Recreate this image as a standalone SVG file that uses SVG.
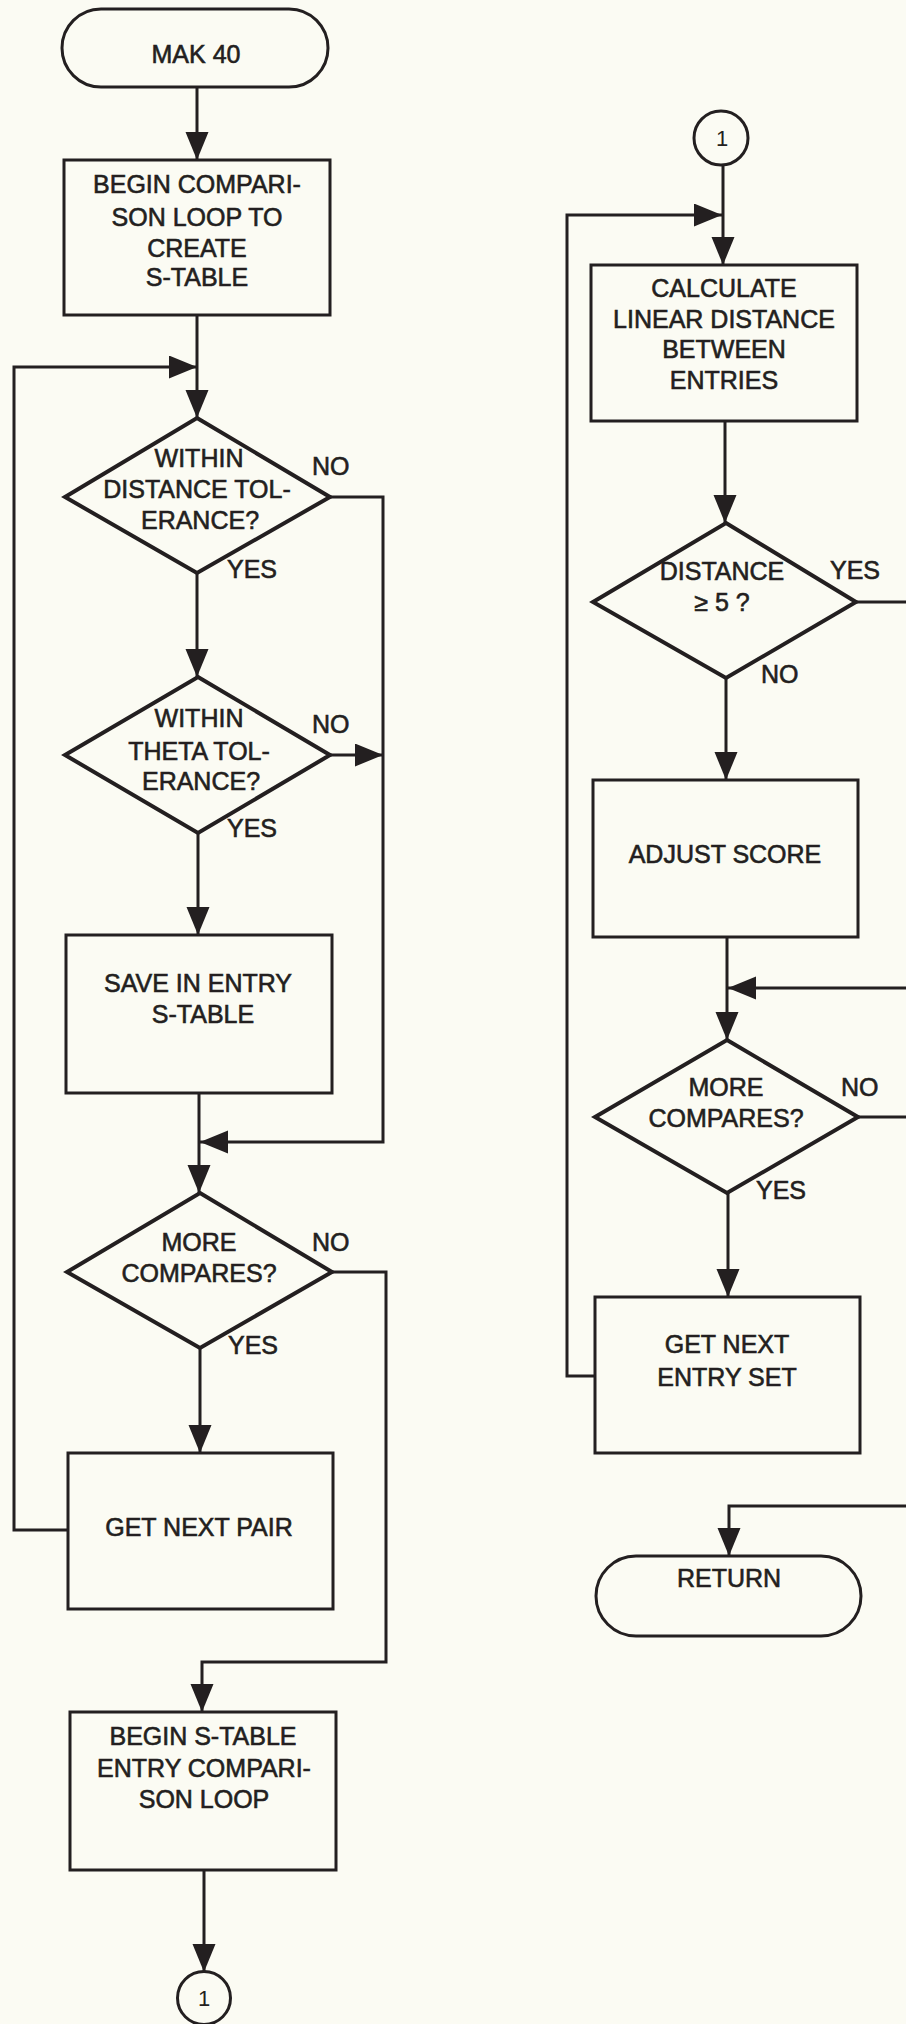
<svg xmlns="http://www.w3.org/2000/svg" width="906" height="2024" viewBox="0 0 906 2024">
<style>
.shape{fill:none;stroke:#231f20;stroke-width:3}
.dia{fill:none;stroke:#231f20;stroke-width:4;stroke-linejoin:miter}
.con{fill:none;stroke:#231f20;stroke-width:3}
.t{font-family:"Liberation Sans",Arial,sans-serif;font-size:25px;fill:#231f20;stroke:#231f20;stroke-width:0.6;text-anchor:middle}
.lbl{font-family:"Liberation Sans",Arial,sans-serif;font-size:25px;fill:#231f20;stroke:#231f20;stroke-width:0.6}
.num{font-family:"Liberation Sans",Arial,sans-serif;font-size:22px;fill:#231f20;text-anchor:middle}
</style>
<defs>
<marker id="ah" markerUnits="userSpaceOnUse" markerWidth="30" markerHeight="24" refX="28" refY="11.5" orient="auto">
<path d="M0,0 L28,11.5 L0,23 z" fill="#231f20"/>
</marker>
</defs>
<rect x="0" y="0" width="906" height="2024" fill="#fbfbf3"/>

<g id="connectors">
<path class="con" d="M197,87 V160" marker-end="url(#ah)"/>
<path class="con" d="M197,315 V418" marker-end="url(#ah)"/>
<path class="con" d="M68,1530 H14 V367 H197" marker-end="url(#ah)"/>
<path class="con" d="M197,573 V677" marker-end="url(#ah)"/>
<path class="con" d="M330,497 H383 V1142 H200" marker-end="url(#ah)"/>
<path class="con" d="M330,755 H383" marker-end="url(#ah)"/>
<path class="con" d="M198,833 V935" marker-end="url(#ah)"/>
<path class="con" d="M199,1093 V1193" marker-end="url(#ah)"/>
<path class="con" d="M200,1348 V1453" marker-end="url(#ah)"/>
<path class="con" d="M332,1272 H386 V1662 H202 V1712" marker-end="url(#ah)"/>
<path class="con" d="M204,1870 V1972" marker-end="url(#ah)"/>
<path class="con" d="M723,165 V265" marker-end="url(#ah)"/>
<path class="con" d="M595,1376 H567 V215 H722" marker-end="url(#ah)"/>
<path class="con" d="M725,421 V523" marker-end="url(#ah)"/>
<path class="con" d="M856,602 H906"/>
<path class="con" d="M726,678 V780" marker-end="url(#ah)"/>
<path class="con" d="M727,937 V1040" marker-end="url(#ah)"/>
<path class="con" d="M906,988 H728" marker-end="url(#ah)"/>
<path class="con" d="M858,1117 H906"/>
<path class="con" d="M728,1193 V1297" marker-end="url(#ah)"/>
<path class="con" d="M906,1506 H729 V1556" marker-end="url(#ah)"/>
</g>

<g id="start">
<rect class="shape" x="62" y="9" width="266" height="78" rx="39" ry="39"/>
<text class="t" x="196" y="63">MAK 40</text>
</g>

<g id="begin-loop">
<rect class="shape" x="64" y="160" width="266" height="155"/>
<text class="t" x="197" y="193">BEGIN COMPARI-</text>
<text class="t" x="197" y="226">SON LOOP TO</text>
<text class="t" x="197" y="257">CREATE</text>
<text class="t" x="197" y="286">S-TABLE</text>
</g>

<g id="dist-tol">
<polygon class="dia" points="197,418 330,497 197,573 65,497"/>
<text class="t" x="199" y="467">WITHIN</text>
<text class="t" x="197" y="498">DISTANCE TOL-</text>
<text class="t" x="200" y="529">ERANCE?</text>
<text class="lbl" x="312" y="475">NO</text>
<text class="lbl" x="227" y="578">YES</text>
</g>

<g id="theta-tol">
<polygon class="dia" points="198,677 330,755 198,833 65,755"/>
<text class="t" x="199" y="727">WITHIN</text>
<text class="t" x="199" y="760">THETA TOL-</text>
<text class="t" x="201" y="790">ERANCE?</text>
<text class="lbl" x="312" y="733">NO</text>
<text class="lbl" x="227" y="837">YES</text>
</g>

<g id="save-entry">
<rect class="shape" x="66" y="935" width="266" height="158"/>
<text class="t" x="198" y="992">SAVE IN ENTRY</text>
<text class="t" x="203" y="1023">S-TABLE</text>
</g>

<g id="more-compares-1">
<polygon class="dia" points="200,1193 332,1272 200,1348 67,1272"/>
<text class="t" x="199" y="1251">MORE</text>
<text class="t" x="199" y="1282">COMPARES?</text>
<text class="lbl" x="312" y="1251">NO</text>
<text class="lbl" x="228" y="1354">YES</text>
</g>

<g id="next-pair">
<rect class="shape" x="68" y="1453" width="265" height="156"/>
<text class="t" x="199" y="1536">GET NEXT PAIR</text>
</g>

<g id="begin-entry-loop">
<rect class="shape" x="70" y="1712" width="266" height="158"/>
<text class="t" x="203" y="1745">BEGIN S-TABLE</text>
<text class="t" x="204" y="1777">ENTRY COMPARI-</text>
<text class="t" x="204" y="1808">SON LOOP</text>
</g>

<g id="connector-out">
<circle class="shape" cx="204" cy="1998" r="26.5"/>
<text class="num" x="204" y="2006">1</text>
</g>

<g id="connector-in">
<circle class="shape" cx="721" cy="138" r="27"/>
<text class="num" x="722" y="146">1</text>
</g>

<g id="calc-distance">
<rect class="shape" x="591" y="265" width="266" height="156"/>
<text class="t" x="724" y="297">CALCULATE</text>
<text class="t" x="724" y="328">LINEAR DISTANCE</text>
<text class="t" x="724" y="358">BETWEEN</text>
<text class="t" x="724" y="389">ENTRIES</text>
</g>

<g id="distance-check">
<polygon class="dia" points="726,523 856,602 726,678 593,602"/>
<text class="t" x="722" y="580">DISTANCE</text>
<text class="t" x="722" y="611">≥ 5 ?</text>
<text class="lbl" x="830" y="579">YES</text>
<text class="lbl" x="761" y="683">NO</text>
</g>

<g id="adjust-score">
<rect class="shape" x="593" y="780" width="265" height="157"/>
<text class="t" x="725" y="863">ADJUST SCORE</text>
</g>

<g id="more-compares-2">
<polygon class="dia" points="727,1040 858,1117 727,1193 595,1117"/>
<text class="t" x="726" y="1096">MORE</text>
<text class="t" x="726" y="1127">COMPARES?</text>
<text class="lbl" x="841" y="1096">NO</text>
<text class="lbl" x="756" y="1199">YES</text>
</g>

<g id="next-entry-set">
<rect class="shape" x="595" y="1297" width="265" height="156"/>
<text class="t" x="727" y="1353">GET NEXT</text>
<text class="t" x="727" y="1386">ENTRY SET</text>
</g>

<g id="return">
<rect class="shape" x="596" y="1556" width="265" height="80" rx="40" ry="40"/>
<text class="t" x="729" y="1587">RETURN</text>
</g>
</svg>
